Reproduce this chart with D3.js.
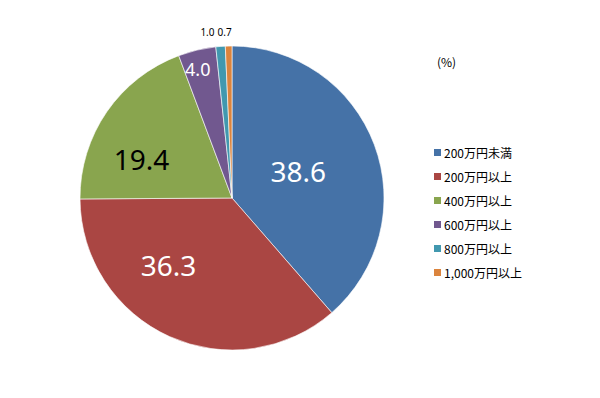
<!DOCTYPE html>
<html>
<head>
<meta charset="utf-8">
<script src="https://cdn.jsdelivr.net/npm/d3@7"></script>
<style>
  html, body { margin: 0; padding: 0; background: #fff; }
  svg { display: block; }
</style>
</head>
<body>
<svg id="chart"></svg>
<script>
const categories = ['200万円未満', '200万円以上', '400万円以上', '600万円以上', '800万円以上', '1,000万円以上'];
const values = [38.6, 36.3, 19.4, 4.0, 1.0, 0.7];
const colors = ['#4572A7', '#AA4643', '#89A54E', '#71588F', '#4198AF', '#DB843D'];
const unitLabel = '(%)';

// label placement per slice (radius factor, angle shift in degrees, colour, size)
const labelLayout = [
  { rf: 0.47, shift: -1.5, fill: '#fff', size: 28 },
  { rf: 0.61, shift: 19, fill: '#fff', size: 28 },
  { rf: 0.65, shift: -11, fill: '#000', size: 28 },
  { rf: 0.88, shift: -1.5, fill: '#fff', size: 18 },
  { rf: 1.104, shift: -4.1, fill: '#000', size: 10 },
  { rf: 1.093, shift: -1.3, fill: '#000', size: 10 },
];

const opts = {
  width: 600,
  height: 398,
  cx: 232,
  cy: 198,
  radius: 152,
  legendX: 434,
  legendY: 152.5,
  legendStep: 24,
};

const svg = d3.select('#chart')
  .attr('width', opts.width)
  .attr('height', opts.height);

const pie = d3.pie().sort(null).value(d => d);
const arcs = pie(values);
const arc = d3.arc().innerRadius(0).outerRadius(opts.radius);

const g = svg.append('g').attr('transform', `translate(${opts.cx},${opts.cy})`);

g.selectAll('path.slice').data(arcs).enter()
  .append('path')
  .classed('slice', true)
  .attr('d', arc)
  .attr('fill', (d, i) => colors[i])
  .attr('stroke', '#fff')
  .attr('stroke-width', 0.6);

function labelPos(d, i) {
  const l = labelLayout[i];
  const a = (d.startAngle + d.endAngle) / 2 + l.shift * Math.PI / 180;
  const r = opts.radius * l.rf;
  return [r * Math.sin(a), -r * Math.cos(a)];
}

g.selectAll('text.val').data(arcs).enter()
  .append('text')
  .classed('val', true)
  .attr('x', (d, i) => labelPos(d, i)[0])
  .attr('y', (d, i) => labelPos(d, i)[1])
  .attr('text-anchor', 'middle')
  .attr('dominant-baseline', 'central')
  .attr('font-family', '"Noto Sans", "Open Sans", sans-serif')
  .attr('font-size', (d, i) => labelLayout[i].size)
  .attr('fill', (d, i) => labelLayout[i].fill)
  .text(d => d.data.toFixed(1));

svg.append('text')
  .attr('x', opts.legendX + 3)
  .attr('y', 67)
  .attr('font-family', '"Noto Sans CJK JP", "Noto Sans", sans-serif')
  .attr('font-size', 12)
  .attr('fill', '#000')
  .text(unitLabel);

const legend = svg.append('g').classed('legend', true);
const items = legend.selectAll('g').data(categories).enter()
  .append('g')
  .attr('transform', (d, i) => `translate(${opts.legendX},${opts.legendY + i * opts.legendStep})`);

items.append('rect')
  .attr('x', 0)
  .attr('y', -3.5)
  .attr('width', 7)
  .attr('height', 7)
  .attr('fill', (d, i) => colors[i]);

items.append('text')
  .attr('x', 10)
  .attr('y', 0)
  .attr('dominant-baseline', 'central')
  .attr('font-family', '"Noto Sans CJK JP", "Noto Sans", sans-serif')
  .attr('font-size', 12)
  .attr('fill', '#000')
  .text(d => d);
</script>
</body>
</html>
